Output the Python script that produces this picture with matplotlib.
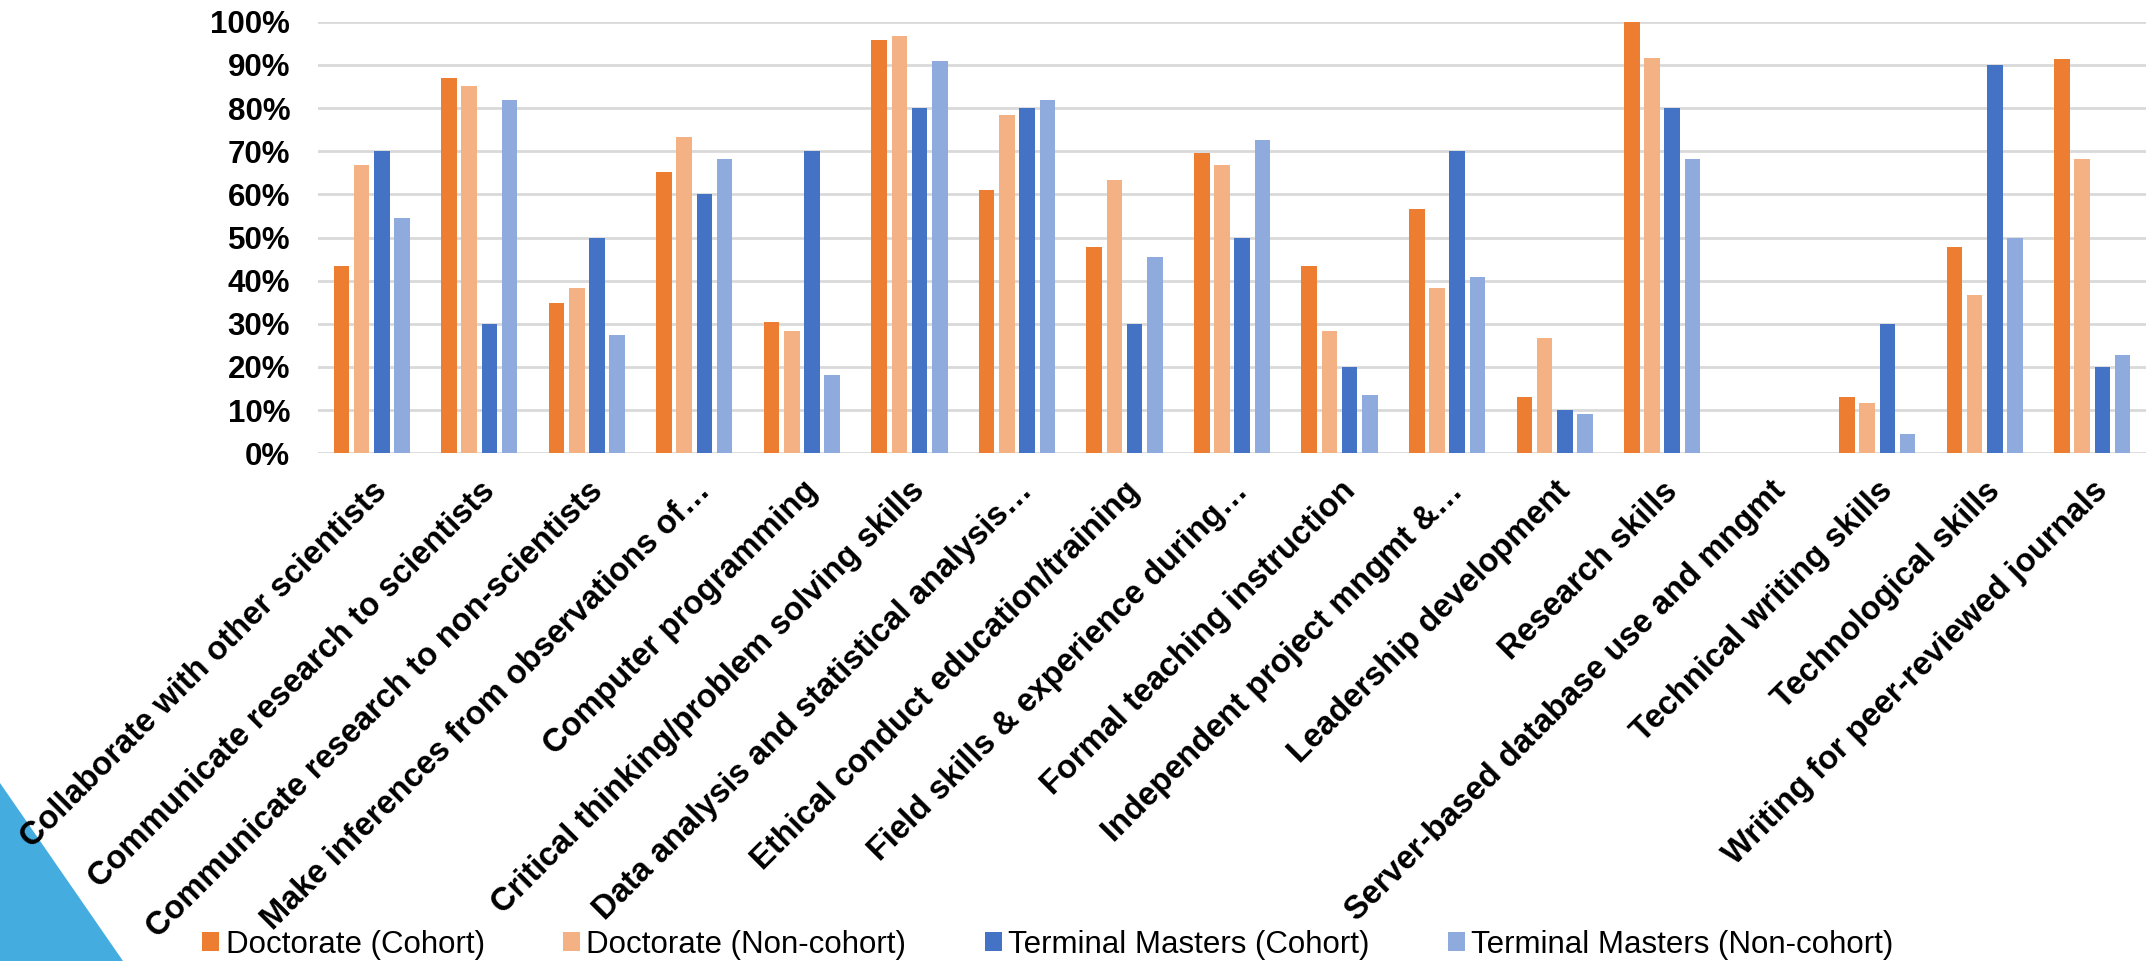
import matplotlib.pyplot as plt
import numpy as np
from matplotlib.patches import Polygon, Patch
from matplotlib.ticker import PercentFormatter

plt.rcParams['font.family'] = ['Liberation Sans', 'DejaVu Sans']

categories = ['Collaborate with other scientists',
              'Communicate research to scientists',
              'Communicate research to non-scientists',
              'Make inferences from observations of…',
              'Computer programming',
              'Critical thinking/problem solving skills',
              'Data analysis and statistical analysis…',
              'Ethical conduct education/training',
              'Field skills & experience during…',
              'Formal teaching instruction',
              'Independent project mngmt &…',
              'Leadership development',
              'Research skills',
              'Server-based database use and mngmt',
              'Technical writing skills',
              'Technological skills',
              'Writing for peer-reviewed journals']

doc_cohort = [43.5, 87.0, 34.8, 65.2, 30.4, 95.7, 60.9, 47.8, 69.6, 43.5, 56.5, 13.0, 100.0, 0, 13.0, 47.8, 91.3]
doc_noncohort = [66.7, 85.0, 38.3, 73.3, 28.3, 96.7, 78.3, 63.3, 66.7, 28.3, 38.3, 26.7, 91.7, 0, 11.7, 36.7, 68.3]
tm_cohort = [70, 30, 50, 60, 70, 80, 80, 30, 50, 20, 70, 10, 80, 0, 30, 90, 20]
tm_noncohort = [54.5, 81.8, 27.3, 68.2, 18.2, 90.9, 81.8, 45.5, 72.7, 13.6, 40.9, 9.1, 68.2, 0, 4.5, 50.0, 22.7]

series = [('Doctorate (Cohort)', doc_cohort, '#ED7D31'),
          ('Doctorate (Non-cohort)', doc_noncohort, '#F4B183'),
          ('Terminal Masters (Cohort)', tm_cohort, '#4472C4'),
          ('Terminal Masters (Non-cohort)', tm_noncohort, '#8FAADC')]

fig = plt.figure(figsize=(21.56, 9.61), dpi=100)
ax = fig.add_axes([0.1475, 0.5283, 0.8479, 0.4491])

x = np.arange(len(categories))
step = 0.188
width = 0.145
for i, (name, vals, col) in enumerate(series):
    ax.bar(x + (i - 1.5) * step, vals, width, color=col, label=name, zorder=3)

ax.set_xlim(-0.5, len(categories) - 0.5)
ax.set_ylim(0, 100)
ax.set_yticks(np.arange(0, 101, 10))
ax.yaxis.set_major_formatter(PercentFormatter(decimals=0))
ax.grid(axis='y', color='#d9d9d9', linewidth=2, zorder=0)
for s in ax.spines.values():
    s.set_visible(False)
ax.tick_params(axis='both', length=0)
ax.tick_params(axis='y', pad=20, labelsize=22.5)
for lab in ax.get_yticklabels():
    lab.set_fontweight('bold')

ax.set_xticks(x)
ax.set_xticklabels(categories, rotation=45, ha='right', va='top',
                   rotation_mode='anchor', fontsize=23.5, fontweight='bold')
ax.tick_params(axis='x', pad=16)

# blue corner decoration, behind the labels
fig.patches.append(Polygon([[0, 1 - 783 / 961], [123 / 2156, 0], [0, 0]],
                           closed=True, transform=fig.transFigure,
                           facecolor='#45ACE0', edgecolor='none', zorder=-1))

handles = [Patch(facecolor=c, edgecolor='none') for _, _, c in series]
labels = [n for n, _, _ in series]
fig.legend(handles, labels, loc='center', bbox_to_anchor=(0.486, 0.017), ncol=4,
           frameon=False, fontsize=22.5, handlelength=0.55, handleheight=0.55,
           handletextpad=0.2, columnspacing=2.5)

fig.savefig('out.png', dpi=100)
